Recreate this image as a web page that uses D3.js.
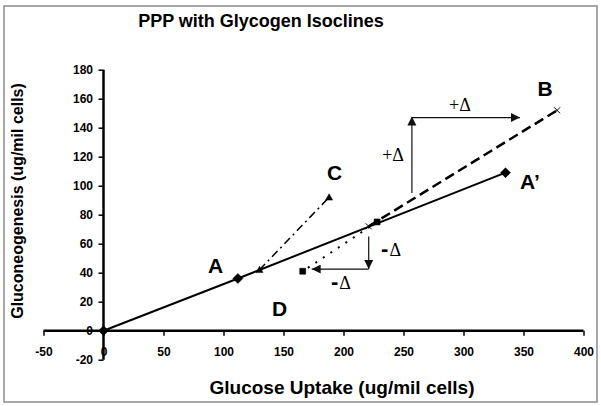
<!DOCTYPE html>
<html>
<head>
<meta charset="utf-8">
<script src="https://cdn.jsdelivr.net/npm/d3@7"></script>
<style>
  body { margin: 0; background: #fff; }
  text { font-family: "Liberation Sans", Arial, sans-serif; }
  .tick text { font-size: 12px; font-weight: bold; fill: #000; }
  .tick line { stroke: #000; stroke-width: 1.5; }
</style>
</head>
<body>
<div class="grafico"></div>
<script>
/* ticks */
const xTicks = [-50, 0, 50, 100, 150, 200, 250, 300, 350, 400]
const yTicks = [-20, 0, 20, 40, 60, 80, 100, 120, 140, 160, 180]

/* series (glucose uptake, gluconeogenesis) */
const lineA = [[0, 0], [112, 36], [335, 109]]
const lineB = [[221, 72], [378, 152]]
const lineC = [[130, 42], [188, 92]]
const lineD = [[228, 75], [166, 41]]

/* delta arrows */
const arrows = [
  [[257, 95], [257, 147]],
  [[257, 147], [347, 147]],
  [[221, 65], [221, 42.5]],
  [[221, 42.5], [173.5, 42.5]]
]

/* labels */
const pointLabels = [
  { t: 'A', x: 93.5, y: 45.1 },
  { t: 'A\u2019', x: 355.4, y: 103 },
  { t: 'B', x: 367.9, y: 166.8 },
  { t: 'C', x: 192.5, y: 109.4 },
  { t: 'D', x: 146.7, y: 15.4 }
]
const deltaLabels = [
  { s: '+', x: 241.3, y: 121.5 },
  { s: '+', x: 297, y: 156.3 },
  { s: '-', x: 239.6, y: 56.3 },
  { s: '-', x: 197.9, y: 32.9 }
]

const w = 601
const h = 406

const svg = d3.select('.grafico')
  .append('svg')
  .attr('width', w)
  .attr('height', h)

/* marco */
svg.append('rect')
  .attr('x', 4).attr('y', 6)
  .attr('width', 593).attr('height', 396)
  .attr('fill', 'none')
  .attr('stroke', '#8c8c8c')
  .attr('stroke-width', 1.5)

svg.append('text')
  .attr('x', 261).attr('y', 27)
  .attr('text-anchor', 'middle')
  .attr('font-size', 18).attr('font-weight', 'bold')
  .text('PPP with Glycogen Isoclines')

const x = d3.scaleLinear().domain([-50, 400]).range([43.5, 583.5])
const y = d3.scaleLinear().domain([-20, 180]).range([359.7, 69.7])

/* ejes: etiquetas primero, lineas despues */
const gx = svg.append('g')
  .attr('transform', `translate(0,${y(0)})`)
  .call(d3.axisBottom(x).tickValues(xTicks).tickSize(5).tickPadding(11.5).tickFormat(d => String(d)))
gx.select('.domain').remove()

const gy = svg.append('g')
  .attr('transform', `translate(${x(0)},0)`)
  .call(d3.axisLeft(y).tickValues(yTicks).tickSize(5).tickPadding(5.5).tickFormat(d => String(d)))
gy.select('.domain').remove()

svg.append('line')
  .attr('x1', x(-50)).attr('x2', x(400))
  .attr('y1', y(0)).attr('y2', y(0))
  .attr('stroke', '#000').attr('stroke-width', 2.5)
svg.append('line')
  .attr('x1', x(0)).attr('x2', x(0))
  .attr('y1', y(-20)).attr('y2', y(180))
  .attr('stroke', '#000').attr('stroke-width', 2.5)

svg.append('text')
  .attr('x', 342).attr('y', 394)
  .attr('text-anchor', 'middle')
  .attr('font-size', 19).attr('font-weight', 'bold')
  .text('Glucose Uptake (ug/mil cells)')

svg.append('text')
  .attr('transform', 'translate(23,201) rotate(-90)')
  .attr('text-anchor', 'middle')
  .attr('font-size', 16).attr('font-weight', 'bold')
  .text('Gluconeogenesis (ug/mil cells)')

/* lineas */
const line = d3.line().x(d => x(d[0])).y(d => y(d[1]))

svg.append('path').datum(lineD).attr('d', line)
  .attr('fill', 'none').attr('stroke', '#000')
  .attr('stroke-width', 2).attr('stroke-dasharray', '2,7')
svg.append('path').datum(lineC).attr('d', line)
  .attr('fill', 'none').attr('stroke', '#000')
  .attr('stroke-width', 1.5).attr('stroke-dasharray', '8,4,2,4')
svg.append('path').datum(lineB).attr('d', line)
  .attr('fill', 'none').attr('stroke', '#000')
  .attr('stroke-width', 2.5).attr('stroke-dasharray', '10,5')
svg.append('path').datum(lineA).attr('d', line)
  .attr('fill', 'none').attr('stroke', '#000')
  .attr('stroke-width', 2)

/* marcadores */
const diamond = r => `M0,${-r}L${r},0L0,${r}L${-r},0Z`
const triangle = r => `M0,${-r}L${r},${r * 0.8}L${-r},${r * 0.8}Z`
const square = r => `M${-r},${-r}H${r}V${r}H${-r}Z`
const cross = r => `M${-r},${-r}L${r},${r}M${-r},${r}L${r},${-r}`

const markers = (data, shape, r, filled) => {
  svg.append('g').selectAll('path')
    .data(data)
    .join('path')
    .attr('transform', d => `translate(${x(d[0])},${y(d[1])})`)
    .attr('d', shape(r))
    .attr('fill', filled ? '#000' : 'none')
    .attr('stroke', '#000')
    .attr('stroke-width', filled ? 0.5 : 1)
}
markers(lineA, diamond, 5, true)
markers(lineC, triangle, 3.5, true)
markers(lineD, square, 3, true)
markers(lineB, cross, 3, false)

/* flechas */
svg.append('defs').append('marker')
  .attr('id', 'arrow')
  .attr('viewBox', '0 0 10 10')
  .attr('refX', 10).attr('refY', 5)
  .attr('markerWidth', 9).attr('markerHeight', 9)
  .attr('markerUnits', 'userSpaceOnUse')
  .attr('orient', 'auto')
  .append('path')
  .attr('d', 'M0,0L10,5L0,10Z')
  .attr('fill', '#111')

svg.append('g').selectAll('line')
  .data(arrows)
  .join('line')
  .attr('x1', d => x(d[0][0])).attr('y1', d => y(d[0][1]))
  .attr('x2', d => x(d[1][0])).attr('y2', d => y(d[1][1]))
  .attr('stroke', '#111').attr('stroke-width', 1.2)
  .attr('marker-end', (d, i) => i === 0 ? null : 'url(#arrow)')

/* la primera flecha vertical tiene la punta en la esquina */
svg.append('path')
  .datum(arrows[0][1])
  .attr('transform', d => `translate(${x(d[0])},${y(d[1])})`)
  .attr('d', 'M0,-1L4.5,8L-4.5,8Z')
  .attr('fill', '#111')

/* textos */
svg.append('g').selectAll('text')
  .data(pointLabels)
  .join('text')
  .attr('x', d => x(d.x)).attr('y', d => y(d.y))
  .attr('dy', '0.36em')
  .attr('text-anchor', 'middle')
  .attr('font-size', 21).attr('font-weight', 'bold')
  .text(d => d.t)

const dl = svg.append('g').selectAll('text')
  .data(deltaLabels)
  .join('text')
  .attr('x', d => x(d.x)).attr('y', d => y(d.y))
  .attr('dy', '0.36em')
  .attr('text-anchor', 'middle')
  .attr('font-size', 18)

dl.append('tspan')
  .style('font-family', d => d.s === '+' ? '"Liberation Serif", "Times New Roman", serif' : '"Liberation Sans", Arial, sans-serif')
  .attr('font-weight', d => d.s === '+' ? 'normal' : 'bold')
  .attr('font-size', d => d.s === '+' ? 18 : 22)
  .text(d => d.s)
dl.append('tspan')
  .style('font-family', '"Liberation Serif", "Times New Roman", serif')
  .attr('dx', d => d.s === '+' ? 0 : 1)
  .text('\u0394')
</script>
</body>
</html>
